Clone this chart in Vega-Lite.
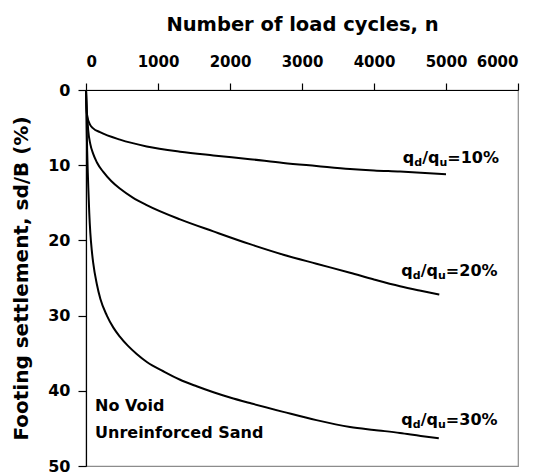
{
  "$schema": "https://vega.github.io/schema/vega-lite/v6.json",
  "autosize": {"type": "none"},
  "padding": {"left": 86, "top": 90, "right": 23, "bottom": 6},
  "width": 432,
  "height": 376,
  "background": "white",
  "config": {
    "font": "DejaVu Sans",
    "view": {"stroke": "#8c8c8c", "strokeWidth": 1.2},
    "axis": {
      "grid": false,
      "labelFont": "DejaVu Sans",
      "titleFont": "DejaVu Sans",
      "labelFontWeight": "bold",
      "titleFontWeight": "bold",
      "labelColor": "black",
      "titleColor": "black",
      "tickColor": "black",
      "domainColor": "black",
      "domainWidth": 1.2,
      "tickWidth": 1.2
    }
  },
  "datasets": {
    "curves": [
      {"curve": "10%", "n": 0, "s": 0}, {"curve": "10%", "n": 5, "s": 1.5}, {"curve": "10%", "n": 12, "s": 3.0}, {"curve": "10%", "n": 20, "s": 3.6},
      {"curve": "10%", "n": 56, "s": 4.6}, {"curve": "10%", "n": 100, "s": 5.1}, {"curve": "10%", "n": 194, "s": 5.6}, {"curve": "10%", "n": 472, "s": 6.6},
      {"curve": "10%", "n": 843, "s": 7.5}, {"curve": "10%", "n": 1306, "s": 8.2}, {"curve": "10%", "n": 1769, "s": 8.7}, {"curve": "10%", "n": 2278, "s": 9.2},
      {"curve": "10%", "n": 2741, "s": 9.7}, {"curve": "10%", "n": 3200, "s": 10.1}, {"curve": "10%", "n": 3667, "s": 10.5}, {"curve": "10%", "n": 4000, "s": 10.7},
      {"curve": "10%", "n": 4361, "s": 10.85}, {"curve": "10%", "n": 4650, "s": 11.0}, {"curve": "10%", "n": 5000, "s": 11.2},
      {"curve": "20%", "n": 0, "s": 0}, {"curve": "20%", "n": 5, "s": 1.5}, {"curve": "20%", "n": 12, "s": 3.0}, {"curve": "20%", "n": 20, "s": 4.0},
      {"curve": "20%", "n": 30, "s": 5.3}, {"curve": "20%", "n": 60, "s": 7.2}, {"curve": "20%", "n": 100, "s": 8.5}, {"curve": "20%", "n": 150, "s": 9.6},
      {"curve": "20%", "n": 240, "s": 10.9}, {"curve": "20%", "n": 350, "s": 12.1}, {"curve": "20%", "n": 470, "s": 13.1}, {"curve": "20%", "n": 650, "s": 14.3},
      {"curve": "20%", "n": 843, "s": 15.3}, {"curve": "20%", "n": 1306, "s": 17.2},
      {"curve": "20%", "n": 1769, "s": 18.8}, {"curve": "20%", "n": 2278, "s": 20.5}, {"curve": "20%", "n": 2741, "s": 21.9}, {"curve": "20%", "n": 3200, "s": 23.1},
      {"curve": "20%", "n": 3667, "s": 24.3}, {"curve": "20%", "n": 4000, "s": 25.2}, {"curve": "20%", "n": 4361, "s": 26.1}, {"curve": "20%", "n": 4650, "s": 26.7},
      {"curve": "20%", "n": 4907, "s": 27.2},
      {"curve": "30%", "n": 0, "s": 0}, {"curve": "30%", "n": 8, "s": 4}, {"curve": "30%", "n": 16, "s": 8}, {"curve": "30%", "n": 25, "s": 11},
      {"curve": "30%", "n": 32, "s": 13}, {"curve": "30%", "n": 45, "s": 16.3}, {"curve": "30%", "n": 60, "s": 19.0}, {"curve": "30%", "n": 80, "s": 21.3},
      {"curve": "30%", "n": 100, "s": 23.0}, {"curve": "30%", "n": 150, "s": 25.8}, {"curve": "30%", "n": 200, "s": 27.8}, {"curve": "30%", "n": 290, "s": 30.0},
      {"curve": "30%", "n": 380, "s": 31.6}, {"curve": "30%", "n": 470, "s": 32.8}, {"curve": "30%", "n": 580, "s": 34.0}, {"curve": "30%", "n": 704, "s": 35.1},
      {"curve": "30%", "n": 850, "s": 36.2}, {"curve": "30%", "n": 1074, "s": 37.4}, {"curve": "30%", "n": 1300, "s": 38.5}, {"curve": "30%", "n": 1537, "s": 39.4},
      {"curve": "30%", "n": 1770, "s": 40.2}, {"curve": "30%", "n": 2000, "s": 40.9}, {"curve": "30%", "n": 2300, "s": 41.7}, {"curve": "30%", "n": 2740, "s": 42.8},
      {"curve": "30%", "n": 3200, "s": 43.9}, {"curve": "30%", "n": 3667, "s": 44.8}, {"curve": "30%", "n": 4000, "s": 45.2}, {"curve": "30%", "n": 4361, "s": 45.6},
      {"curve": "30%", "n": 4650, "s": 46.0}, {"curve": "30%", "n": 4900, "s": 46.3}
    ],
    "labels": [
      {"curve": "10%", "n": 4400, "s": 9.65, "q1": "q", "sub1": "d", "q2": "/q", "sub2": "u", "eq": "=10%"},
      {"curve": "20%", "n": 4380, "s": 24.8, "q1": "q", "sub1": "d", "q2": "/q", "sub2": "u", "eq": "=20%"},
      {"curve": "30%", "n": 4380, "s": 44.6, "q1": "q", "sub1": "d", "q2": "/q", "sub2": "u", "eq": "=30%"}
    ]
  },
  "layer": [
    {
      "data": {"name": "curves"},
      "mark": {"type": "line", "color": "black", "strokeWidth": 2, "interpolate": "monotone"},
      "encoding": {
        "x": {
          "field": "n", "type": "quantitative",
          "scale": {"domain": [0, 6000], "nice": false},
          "axis": {
            "orient": "top", "values": [0, 1000, 2000, 3000, 4000, 5000, 6000], "format": "d",
            "title": "Number of load cycles, n",
            "labelFontSize": 15, "tickSize": 7, "labelPadding": 14,
            "titleFontSize": 19.5, "titlePadding": 20
          }
        },
        "y": {
          "field": "s", "type": "quantitative",
          "scale": {"domain": [0, 50], "reverse": true, "nice": false},
          "axis": {
            "values": [0, 10, 20, 30, 40, 50],
            "title": "Footing settlement, sd/B (%)",
            "labelFontSize": 16, "tickSize": 8, "labelPadding": 8,
            "titleFontSize": 20, "titlePadding": 16
          }
        },
        "detail": {"field": "curve"}
      }
    },
    {
      "data": {"name": "labels"},
      "mark": {"type": "text", "align": "left", "baseline": "alphabetic", "fontSize": 16, "fontWeight": "bold", "color": "black"},
      "encoding": {"x": {"field": "n", "type": "quantitative"}, "y": {"field": "s", "type": "quantitative"}, "text": {"field": "q1"}}
    },
    {
      "data": {"name": "labels"},
      "mark": {"type": "text", "align": "left", "baseline": "alphabetic", "fontSize": 11, "fontWeight": "bold", "color": "black", "dx": 11.5, "dy": 3},
      "encoding": {"x": {"field": "n", "type": "quantitative"}, "y": {"field": "s", "type": "quantitative"}, "text": {"field": "sub1"}}
    },
    {
      "data": {"name": "labels"},
      "mark": {"type": "text", "align": "left", "baseline": "alphabetic", "fontSize": 16, "fontWeight": "bold", "color": "black", "dx": 19.4},
      "encoding": {"x": {"field": "n", "type": "quantitative"}, "y": {"field": "s", "type": "quantitative"}, "text": {"field": "q2"}}
    },
    {
      "data": {"name": "labels"},
      "mark": {"type": "text", "align": "left", "baseline": "alphabetic", "fontSize": 11, "fontWeight": "bold", "color": "black", "dx": 36.7, "dy": 3},
      "encoding": {"x": {"field": "n", "type": "quantitative"}, "y": {"field": "s", "type": "quantitative"}, "text": {"field": "sub2"}}
    },
    {
      "data": {"name": "labels"},
      "mark": {"type": "text", "align": "left", "baseline": "alphabetic", "fontSize": 16, "fontWeight": "bold", "color": "black", "dx": 44.5},
      "encoding": {"x": {"field": "n", "type": "quantitative"}, "y": {"field": "s", "type": "quantitative"}, "text": {"field": "eq"}}
    },
    {
      "data": {"values": [{"n": 125, "s": 42.7, "note": ["No Void", "Unreinforced Sand"]}]},
      "mark": {"type": "text", "align": "left", "baseline": "alphabetic", "fontSize": 16, "fontWeight": "bold", "color": "black", "lineHeight": 26.6},
      "encoding": {"x": {"field": "n", "type": "quantitative"}, "y": {"field": "s", "type": "quantitative"}, "text": {"field": "note"}}
    }
  ]
}
